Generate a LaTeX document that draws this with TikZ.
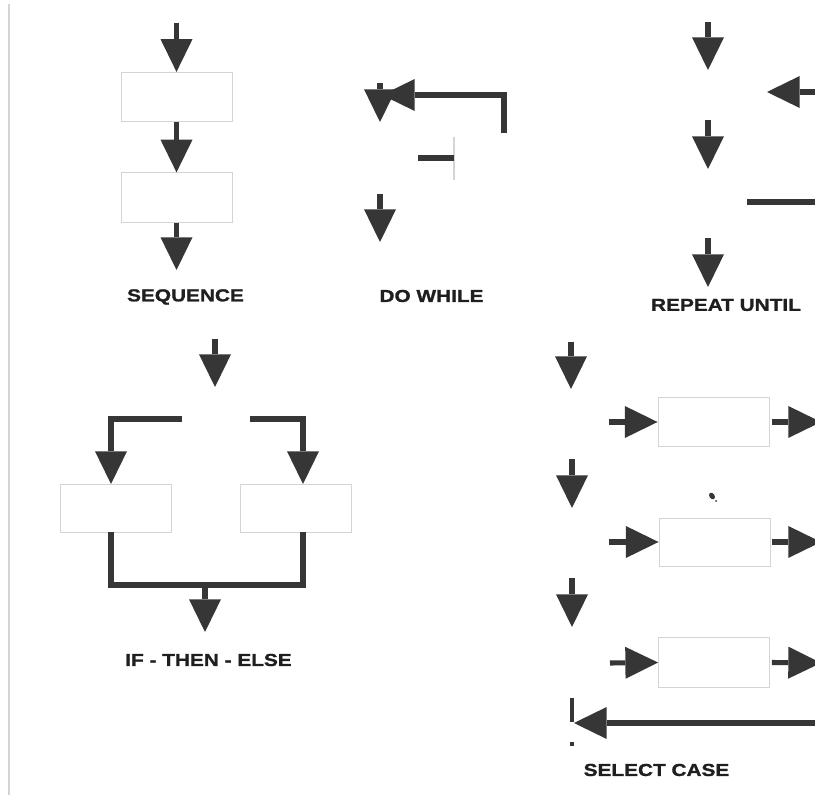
\documentclass[tikz,border=0pt]{standalone}
\usepackage{fontspec}
\newfontfamily\capsfont[FakeStretch=1.2, FakeBold=1.2]{Liberation Sans Bold}
\usetikzlibrary{arrows.meta}
\definecolor{ink}{HTML}{363636}
\definecolor{frame}{HTML}{D4D4D4}
\tikzset{
  flow/.style={draw=ink, line width=3.8pt, line join=miter,
    -{Triangle[width=24pt,length=24.5pt,line width=0pt]}},
  bar/.style={draw=ink, line width=3.8pt, line join=miter},
  stepbox/.style={draw=frame, line width=0.7pt, minimum width=83.25pt,
    minimum height=37pt, inner sep=0pt},
  caption/.style={font=\capsfont\fontsize{13}{15}\selectfont,
    text=black!88, inner sep=0pt}
}
\begin{document}
\begin{tikzpicture}[x=0.75pt, y=-0.75pt]
\clip (0,0) rectangle (815,795);
\fill[white] (0,0) rectangle (815,795);
% faint page edge
\draw[frame, line width=0.9pt] (9,4) -- (9,795);

% ---------- SEQUENCE ----------
\node[stepbox] (sb1) at (176.5,97) {};
\node[stepbox] (sb2) at (176.5,197.5) {};
\coordinate (seqin) at (176.5,23);
\coordinate (seqout) at (176.5,270);
\draw[flow] (seqin) -- (sb1.north);
\draw[flow] (sb1.south) -- (sb2.north);
\draw[flow] (sb2.south) -- (seqout);
\node[caption] (seqlbl) at (185.5,297) {SEQUENCE};

% ---------- DO WHILE ----------
\coordinate (dwback) at (504,133);
\coordinate (dwtip) at (382,95);
\coordinate (dwin) at (380,83);
\coordinate (dwjoin) at (380,122);
\coordinate (dwbarl) at (418,158);
\coordinate (dwbarr) at (454,158);
\coordinate (dwout1) at (380,194);
\coordinate (dwout2) at (380,242);
\draw[frame, line width=0.8pt] (454,137) -- (454,180);
\draw[flow] (dwback) |- (dwtip);
\draw[flow] (dwin) -- (dwjoin);
\draw[bar] (dwbarl) -- (dwbarr);
\draw[flow] (dwout1) -- (dwout2);
\node[caption] (dwlbl) at (431.5,296) {DO WHILE};

% ---------- REPEAT UNTIL ----------
\coordinate (ru1a) at (708,22);   \coordinate (ru1b) at (708,70);
\coordinate (ruba) at (818,92);   \coordinate (rubb) at (767,92);
\coordinate (ru2a) at (708,120);  \coordinate (ru2b) at (708,169);
\coordinate (rula) at (747,202);  \coordinate (rulb) at (818,202);
\coordinate (ru3a) at (708,238);  \coordinate (ru3b) at (708,287);
\draw[flow] (ru1a) -- (ru1b);
\draw[flow] (ruba) -- (rubb);
\draw[flow] (ru2a) -- (ru2b);
\draw[bar] (rula) -- (rulb);
\draw[flow] (ru3a) -- (ru3b);
\node[caption] (rulbl) at (726,305) {REPEAT UNTIL};

% ---------- IF - THEN - ELSE ----------
\node[stepbox, minimum height=36pt] (itl) at (116,508) {};
\node[stepbox, minimum height=36pt] (itr) at (296,508) {};
\coordinate (itin) at (215,339);   \coordinate (itcond) at (215,387);
\coordinate (itls) at (182,419);   \coordinate (itlt) at (111,484);
\coordinate (itrs) at (250,419);   \coordinate (itrt) at (303,484);
\coordinate (itlb) at (111,532);   \coordinate (itrb) at (303,532);
\coordinate (itjoin) at (205,585); \coordinate (itout) at (205,632);
\draw[flow] (itin) -- (itcond);
\draw[flow] (itls) -| (itlt);
\draw[flow] (itrs) -| (itrt);
\draw[bar] (itlb) |- (itrb |- itjoin) -- (itrb);
\draw[flow] (itjoin) -- (itout);
\node[caption] (itlbl) at (208.5,660) {IF - THEN - ELSE};

% ---------- SELECT CASE ----------
\node[stepbox] (sc1) at (713.5,422) {};
\node[stepbox, minimum height=36pt] (sc2) at (714.5,542) {};
\node[stepbox] (sc3) at (714,662.5) {};
\coordinate (sd1a) at (571,342); \coordinate (sd1b) at (571,389);
\coordinate (sd2a) at (572,459); \coordinate (sd2b) at (572,508);
\coordinate (sd3a) at (572,578); \coordinate (sd3b) at (572,627);
\draw[flow] (sd1a) -- (sd1b);
\draw[flow] (sd2a) -- (sd2b);
\draw[flow] (sd3a) -- (sd3b);
\coordinate (sr1) at (609,422);  \coordinate (so1) at (821,422);
\coordinate (sr2) at (609,542);  \coordinate (so2) at (821,542);
\coordinate (sr3) at (610,663);  \coordinate (so3) at (821,663);
\draw[flow] (sr1) -- (sc1.west);
\draw[flow] (sc1.east) ++(3,0) coordinate (sx1) (sx1) -- (so1);
\draw[flow] (sr2) -- (sc2.west);
\draw[flow] (sc2.east) ++(2,0) coordinate (sx2) (sx2) -- (so2);
\draw[flow] (sr3) -- (sc3.west);
\draw[flow] (sc3.east) ++(2,0) coordinate (sx3) (sx3) -- (so3);
% return path
\coordinate (sret) at (818,723);
\coordinate (sretend) at (574,723);
\coordinate (spost) at (572,698);
\draw[flow] (sret) -- (sretend);
\draw[draw=ink, line width=3pt] (spost) -- (572,722);
\fill[ink] (570,742) rectangle (574,746);
\fill[ink, rotate around={35:(712,496)}] (712,496) ellipse (2.6 and 3.6);
\fill[ink] (716,501) circle (1);
\node[caption] (sclbl) at (656.5,770) {SELECT CASE};
\end{tikzpicture}
\end{document}
